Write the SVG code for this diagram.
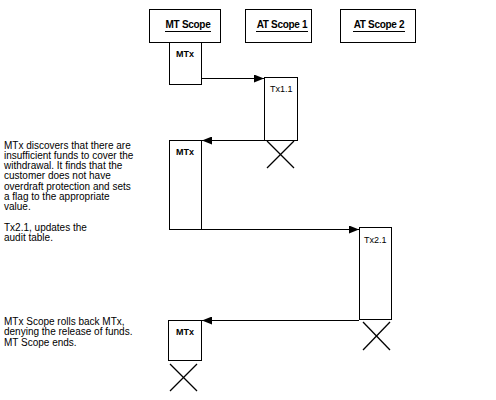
<svg xmlns="http://www.w3.org/2000/svg" width="496" height="400" viewBox="0 0 496 400">
<defs>
<style>
.box{fill:#fff;stroke:#000;stroke-width:1}
.hdr{font-family:"Liberation Sans",Arial,sans-serif;font-size:10px;font-weight:bold;letter-spacing:-0.3px;fill:#000;text-anchor:middle}
.lbl{font-family:"Liberation Sans",Arial,sans-serif;font-size:9px;fill:#000}
.lblb{font-family:"Liberation Sans",Arial,sans-serif;font-size:9px;font-weight:bold;fill:#000}
.note{font-family:"Liberation Sans",Arial,sans-serif;font-size:10px;fill:#000}
.ul{stroke:#000;stroke-width:1}
.msg{stroke:#000;stroke-width:1;fill:none}
.x{stroke:#000;stroke-width:1.3}
</style>
<marker id="ah" markerWidth="10" markerHeight="8" refX="10" refY="4" orient="auto" markerUnits="userSpaceOnUse">
<path d="M0,0 L10,4 L0,8 Z" fill="#000"/>
</marker>
</defs>
<rect width="496" height="400" fill="#fff"/>

<g id="mt-scope">
<rect class="box" x="149.5" y="9.5" width="71" height="33"/>
<text class="hdr" x="188" y="28">MT Scope</text>
<line class="ul" x1="165" y1="31.5" x2="211" y2="31.5"/>
</g>
<g id="at-scope-1">
<rect class="box" x="245.5" y="9.5" width="66" height="33"/>
<text class="hdr" x="282" y="28">AT Scope 1</text>
<line class="ul" x1="256" y1="31.5" x2="308" y2="31.5"/>
</g>
<g id="at-scope-2">
<rect class="box" x="340.5" y="9.5" width="75" height="33"/>
<text class="hdr" x="379" y="28">AT Scope 2</text>
<line class="ul" x1="353" y1="31.5" x2="405" y2="31.5"/>
</g>

<g id="mtx-1">
<rect class="box" x="169.5" y="42.5" width="32" height="42"/>
<text class="lblb" x="176" y="57">MTx</text>
</g>
<g id="tx1-1">
<rect class="box" x="264.5" y="77.5" width="33" height="63"/>
<text class="lbl" x="270" y="92">Tx1.1</text>
<line class="x" x1="267" y1="141" x2="294" y2="168"/>
<line class="x" x1="294" y1="141" x2="267" y2="168"/>
</g>
<g id="mtx-2">
<rect class="box" x="169.5" y="140.5" width="32" height="89"/>
<text class="lblb" x="176" y="155">MTx</text>
</g>
<g id="tx2-1">
<rect class="box" x="359.5" y="227.5" width="32" height="92"/>
<text class="lbl" x="364" y="243">Tx2.1</text>
<line class="x" x1="363" y1="322" x2="390" y2="350"/>
<line class="x" x1="390" y1="322" x2="363" y2="350"/>
</g>
<g id="mtx-3">
<rect class="box" x="168.5" y="320.5" width="33" height="40"/>
<text class="lblb" x="176" y="335">MTx</text>
<line class="x" x1="170" y1="364" x2="197" y2="391"/>
<line class="x" x1="197" y1="364" x2="170" y2="391"/>
</g>

<g id="connectors">
<line class="msg" x1="202" y1="78.5" x2="264" y2="78.5" marker-end="url(#ah)"/>
<line class="msg" x1="264" y1="140.5" x2="202" y2="140.5" marker-end="url(#ah)"/>
<line class="msg" x1="202" y1="229.5" x2="359" y2="229.5" marker-end="url(#ah)"/>
<line class="msg" x1="359" y1="320.5" x2="202" y2="320.5" marker-end="url(#ah)"/>
</g>

<g id="notes">
<text class="note" x="4" y="148.5">MTx  discovers that there are</text>
<text class="note" x="4" y="158.8">insufficient funds to cover the</text>
<text class="note" x="4" y="169.1">withdrawal. It finds that the</text>
<text class="note" x="4" y="179.4">customer does not have</text>
<text class="note" x="4" y="189.7">overdraft protection and sets</text>
<text class="note" x="4" y="200">a flag to the appropriate</text>
<text class="note" x="4" y="210.3">value.</text>
<text class="note" x="4" y="230.9">Tx2.1, updates the</text>
<text class="note" x="4" y="241.2">audit table.</text>
<text class="note" x="4" y="325">MTx Scope rolls back MTx,</text>
<text class="note" x="4" y="335.3">denying the release of funds.</text>
<text class="note" x="4" y="345.6">MT Scope ends.</text>
</g>
</svg>
